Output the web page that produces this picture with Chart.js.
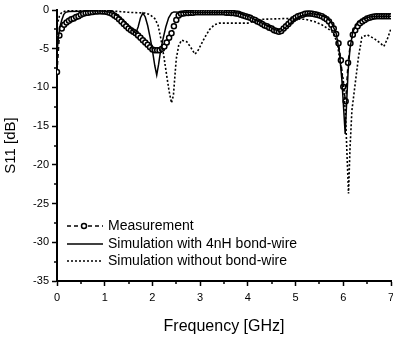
<!DOCTYPE html>
<html>
<head>
<meta charset="utf-8">
<script src="https://cdn.jsdelivr.net/npm/chart.js@4.4.0/dist/chart.umd.min.js"></script>
<style>
    html, body { margin: 0; padding: 0; background: #fff; }
    #wrap { width: 393px; height: 337px; }
</style>
</head>
<body>
<div id="wrap"><canvas id="s11Chart" width="393" height="337"></canvas></div>
<script>
// Measurement, sampled every 0.05 GHz
const measFreq = [
    0, 0.05, 0.1, 0.15, 0.2, 0.25, 0.3, 0.35, 0.4, 0.45, 0.5, 0.55, 0.6, 0.65, 0.7, 0.75, 0.8, 0.85, 0.9, 0.95,
    1, 1.05, 1.1, 1.15, 1.2, 1.25, 1.3, 1.35, 1.4, 1.45, 1.5, 1.55, 1.6, 1.65, 1.7, 1.75, 1.8, 1.85, 1.9, 1.95,
    2, 2.05, 2.1, 2.15, 2.2, 2.25, 2.3, 2.35, 2.4, 2.45, 2.5, 2.55, 2.6, 2.65, 2.7, 2.75, 2.8, 2.85, 2.9, 2.95,
    3, 3.05, 3.1, 3.15, 3.2, 3.25, 3.3, 3.35, 3.4, 3.45, 3.5, 3.55, 3.6, 3.65, 3.7, 3.75, 3.8, 3.85, 3.9, 3.95,
    4, 4.05, 4.1, 4.15, 4.2, 4.25, 4.3, 4.35, 4.4, 4.45, 4.5, 4.55, 4.6, 4.65, 4.7, 4.75, 4.8, 4.85, 4.9, 4.95,
    5, 5.05, 5.1, 5.15, 5.2, 5.25, 5.3, 5.35, 5.4, 5.45, 5.5, 5.55, 5.6, 5.65, 5.7, 5.75, 5.8, 5.85, 5.9, 5.95,
    6, 6.05, 6.1, 6.15, 6.2, 6.25, 6.3, 6.35, 6.4, 6.45, 6.5, 6.55, 6.6, 6.65, 6.7, 6.75, 6.8, 6.85, 6.9, 6.95,
    7
];
const measS11 = [
    -8.0, -3.3, -2.4, -1.9, -1.6, -1.4, -1.2, -1.1, -0.9, -0.8, -0.6, -0.5, -0.4, -0.35, -0.3, -0.25, -0.2, -0.2, -0.15, -0.2,
    -0.2, -0.25, -0.35, -0.5, -0.7, -0.9, -1.2, -1.5, -1.8, -2.1, -2.4, -2.6, -2.8, -3.0, -3.3, -3.6, -3.9, -4.2, -4.5, -4.8,
    -5.1, -5.2, -5.2, -5.2, -5.0, -4.7, -4.2, -3.6, -3.0, -2.1, -1.3, -0.7, -0.5, -0.45, -0.4, -0.4, -0.35, -0.35, -0.3, -0.3,
    -0.3, -0.3, -0.3, -0.3, -0.3, -0.3, -0.3, -0.3, -0.3, -0.3, -0.3, -0.35, -0.35, -0.4, -0.4, -0.45, -0.5, -0.6, -0.7, -0.8,
    -0.9, -1.0, -1.2, -1.3, -1.5, -1.6, -1.8, -2.0, -2.1, -2.3, -2.4, -2.6, -2.7, -2.8, -2.7, -2.4, -2.1, -1.8, -1.5, -1.2,
    -1.0, -0.8, -0.7, -0.6, -0.5, -0.45, -0.45, -0.5, -0.55, -0.6, -0.7, -0.8, -1.0, -1.2, -1.5, -1.9, -2.4, -3.1, -4.3, -6.5,
    -9.9, -11.8, -6.8, -4.3, -3.2, -2.6, -2.1, -1.7, -1.5, -1.3, -1.1, -1.0, -0.9, -0.85, -0.8, -0.8, -0.8, -0.8, -0.8, -0.8,
    -0.8
];

// Simulation with 4nH bond-wire
const simFreq = [
    0, 0.03, 0.06, 0.1, 0.14, 0.18, 0.25, 0.5, 0.8, 1.0, 1.1, 1.2, 1.3, 1.4, 1.5, 1.58, 1.65, 1.7, 1.75, 1.8,
    1.85, 1.9, 1.95, 2.0, 2.05, 2.09, 2.13, 2.17, 2.22, 2.28, 2.34, 2.4, 2.45, 2.6, 3.0, 3.5, 3.8, 4.0, 4.2, 4.4,
    4.55, 4.68, 4.8, 4.95, 5.1, 5.3, 5.5, 5.65, 5.75, 5.85, 5.92, 5.97, 6.01, 6.04, 6.07, 6.1, 6.14, 6.2, 6.3, 6.4,
    6.5, 6.6, 6.8, 7.0
];
const simS11 = [
    -5.5, -3.5, -2.2, -1.3, -0.6, -0.3, -0.2, -0.15, -0.1, -0.15, -0.3, -0.5, -0.9, -1.4, -2.0, -2.6, -3.0, -2.2, -1.0, -0.4,
    -0.9, -2.0, -3.5, -5.2, -7.2, -8.4, -7.0, -5.3, -3.8, -2.2, -1.0, -0.4, -0.25, -0.3, -0.3, -0.3, -0.4, -0.8, -1.4, -2.0,
    -2.5, -2.8, -2.2, -1.4, -0.8, -0.45, -0.6, -1.0, -1.6, -3.0, -5.5, -9.0, -13.0, -16.0, -12.0, -8.0, -5.0, -2.8, -1.6, -1.2,
    -1.0, -0.85, -0.8, -0.8
];

// Simulation without bond-wire
const noWireFreq = [
    0, 0.05, 0.1, 0.2, 0.5, 1.0, 1.3, 1.5, 1.7, 1.85, 1.95, 2.05, 2.12, 2.18, 2.24, 2.3, 2.35, 2.4, 2.44, 2.47,
    2.5, 2.55, 2.61, 2.72, 2.8, 2.89, 2.95, 3.0, 3.1, 3.2, 3.3, 3.4, 3.7, 4.0, 4.1, 4.3, 4.8, 5.2, 5.4, 5.55,
    5.7, 5.8, 5.88, 5.94, 6.0, 6.05, 6.08, 6.11, 6.14, 6.18, 6.25, 6.32, 6.39, 6.5, 6.65, 6.78, 6.85, 6.92, 7.0
];
const noWireS11 = [
    -2.0, -0.8, -0.3, -0.1, -0.05, -0.05, -0.2, -0.3, -0.35, -0.4, -0.6, -1.1, -2.0, -3.8, -6.0, -8.5, -10.5, -12.0, -11.0, -8.6,
    -6.3, -4.6, -3.9, -4.1, -4.8, -5.7, -5.3, -4.7, -3.5, -2.5, -1.9, -1.7, -1.7, -1.7, -1.5, -1.2, -1.1, -1.2, -1.5, -1.9,
    -2.5, -3.0, -4.5, -7.0, -9.0, -14.0, -19.0, -23.7, -18.0, -13.0, -9.5, -6.0, -3.5, -3.2, -3.7, -4.3, -4.7, -3.8, -2.4
];

const xTicks = [0, 1, 2, 3, 4, 5, 6, 7];
const yTicks = [0, -5, -10, -15, -20, -25, -30, -35];

const legendItems = ['Measurement', 'Simulation with 4nH bond-wire', 'Simulation without bond-wire'];

const toPoints = (xs, ys) => xs.map((x, i) => ({ x: x, y: ys[i] }));

// minor ticks + legend drawn by hand
const extrasPlugin = {
    id: 'extras',
    afterDraw(chart) {
        const { ctx } = chart;
        const xs = chart.scales.x;
        const ys = chart.scales.y;
        ctx.save();
        ctx.strokeStyle = '#000';
        ctx.lineWidth = 1.5;
        for (let i = 0; i < xTicks.length - 1; i++) {
            const px = Math.round(xs.getPixelForValue((xTicks[i] + xTicks[i + 1]) / 2));
            ctx.beginPath();
            ctx.moveTo(px, ys.bottom);
            ctx.lineTo(px, ys.bottom + 3);
            ctx.stroke();
        }
        for (let i = 0; i < yTicks.length - 1; i++) {
            const py = Math.round(ys.getPixelForValue((yTicks[i] + yTicks[i + 1]) / 2));
            ctx.beginPath();
            ctx.moveTo(xs.left, py);
            ctx.lineTo(xs.left - 3, py);
            ctx.stroke();
        }

        // legend
        const lx0 = 67, lx1 = 103, tx = 108;
        const rows = [226, 244, 261];
        ctx.font = '14px "Liberation Sans", Arial, sans-serif';
        ctx.fillStyle = '#000';
        ctx.textBaseline = 'middle';
        rows.forEach((y, i) => {
            ctx.beginPath();
            if (i === 0) {
                ctx.setLineDash([4, 3]);
                ctx.lineWidth = 1.5;
            } else if (i === 1) {
                ctx.setLineDash([]);
                ctx.lineWidth = 1.5;
            } else {
                ctx.setLineDash([2, 2]);
                ctx.lineWidth = 1.5;
            }
            ctx.moveTo(lx0, y);
            ctx.lineTo(lx1, y);
            ctx.stroke();
            ctx.setLineDash([]);
            if (i === 0) {
                ctx.beginPath();
                ctx.arc(84, y, 2.5, 0, Math.PI * 2);
                ctx.fillStyle = '#fff';
                ctx.fill();
                ctx.lineWidth = 1.5;
                ctx.stroke();
                ctx.fillStyle = '#000';
            }
            ctx.fillText(legendItems[i], tx, y);
        });
        ctx.restore();
    },
};

const ctx = document.getElementById('s11Chart').getContext('2d');
const s11Chart = new Chart(ctx, {
    type: 'line',
    data: {
        datasets: [
            {
                label: legendItems[1],
                data: toPoints(simFreq, simS11),
                borderColor: '#000',
                borderWidth: 1.5,
                pointRadius: 0,
                tension: 0,
                order: 1,
            },
            {
                label: legendItems[2],
                data: toPoints(noWireFreq, noWireS11),
                borderColor: '#000',
                borderWidth: 1.6,
                borderDash: [2, 2],
                pointRadius: 0,
                tension: 0,
                order: 2,
            },
            {
                label: legendItems[0],
                data: toPoints(measFreq, measS11),
                borderColor: '#000',
                borderWidth: 1.5,
                borderDash: [4, 3],
                pointRadius: 2.5,
                pointBorderWidth: 1.5,
                pointBackgroundColor: '#fff',
                pointBorderColor: '#000',
                tension: 0,
                order: 3,
            },
        ],
    },
    options: {
        responsive: false,
        animation: false,
        devicePixelRatio: 1,
        layout: { autoPadding: false, padding: { top: 10, right: 2, left: 0, bottom: 0 } },
        plugins: {
            legend: { display: false },
            tooltip: { enabled: false },
        },
        scales: {
            x: {
                type: 'linear',
                min: 0,
                max: 7,
                afterBuildTicks: (axis) => { axis.ticks = xTicks.map((v) => ({ value: v })); },
                afterFit: (axis) => {
                    axis.height = 56;
                    axis.paddingRight = 0;
                    axis.paddingLeft = 0;
                },
                border: { display: true, color: '#000', width: 2 },
                grid: { drawOnChartArea: false, drawTicks: true, tickLength: 5, tickColor: '#000', tickWidth: 1.5 },
                ticks: {
                    color: '#000',
                    padding: 5,
                    maxRotation: 0,
                    font: { family: '"Liberation Sans", Arial, sans-serif', size: 11 },
                },
                title: {
                    display: true,
                    text: 'Frequency [GHz]',
                    color: '#000',
                    font: { family: '"Liberation Sans", Arial, sans-serif', size: 16 },
                    padding: { top: 0, bottom: 1 },
                },
            },
            y: {
                type: 'linear',
                min: -35,
                max: 0,
                afterBuildTicks: (axis) => { axis.ticks = yTicks.map((v) => ({ value: v })); },
                afterFit: (axis) => { axis.width = 57; },
                border: { display: true, color: '#000', width: 2 },
                grid: { drawOnChartArea: false, drawTicks: true, tickLength: 5, tickColor: '#000', tickWidth: 1.5 },
                ticks: {
                    color: '#000',
                    padding: 3,
                    font: { family: '"Liberation Sans", Arial, sans-serif', size: 11 },
                },
                title: {
                    display: true,
                    text: 'S11 [dB]',
                    color: '#000',
                    font: { family: '"Liberation Sans", Arial, sans-serif', size: 15 },
                    padding: { top: 2, bottom: 0 },
                },
            },
        },
    },
    plugins: [extrasPlugin],
});
</script>
</body>
</html>
